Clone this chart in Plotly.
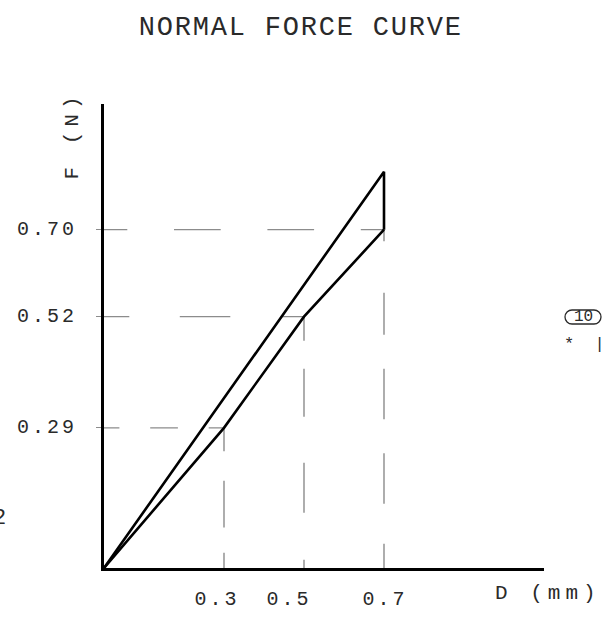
import plotly.graph_objects as go

# ---- data ----
guide_D = [0.3, 0.5, 0.7]          # deflection (mm) of the marked points
guide_F = [0.29, 0.52, 0.70]       # force (N) of the marked points
lower_D = [0, 0.3, 0.5, 0.7]
lower_F = [0, 0.29, 0.52, 0.70]
upper_D = [0, 0.7, 0.7]
upper_F = [0, 0.82, 0.70]
x_tick_text = ["0.3", "0.5", "0.7"]
y_tick_text = ["0.29", "0.52", "0.70"]

# ---- layout constants ----
W, H = 604, 618
ML, MR, MT, MB = 104, 60, 104, 50
PW, PH = W - ML - MR, H - MT - MB
X_MAX, Y_MAX = 1.1, 0.96
SX, SY = PW / X_MAX, PH / Y_MAX   # px per unit (for dash scaling only)

# dash patterns as in the drawing (reference pixel lengths, rescaled)
h_pat = {0.70: ([24, 48, 48, 48, 48, 48, 24], 288),
         0.52: ([25, 50, 50, 50, 25], 198),
         0.29: ([15, 30, 27, 30, 15], 117)}
v_pat = {0.70: ([12, 53, 43, 35, 52, 35, 52, 41, 25], 348),
         0.52: ([23, 27, 46, 44, 48, 45, 8], 241),
         0.29: ([23, 29, 46, 25, 15], 138)}


def dash(pat, ref_len, my_len):
    k = my_len / ref_len
    return ",".join(f"{v * k:.1f}px" for v in pat)


GUIDE = "#8c8c8c"
TXT = "#2a2a2a"
FONT = "Liberation Mono, DejaVu Sans Mono, monospace"

fig = go.Figure()

for d, f in zip(guide_D, guide_F):
    pat, rl = h_pat[f]
    fig.add_trace(go.Scatter(x=[0, d], y=[f, f], mode="lines",
                             line=dict(color=GUIDE, width=1.4, dash=dash(pat, rl, d * SX)),
                             hoverinfo="skip", showlegend=False))
    pat, rl = v_pat[f]
    fig.add_trace(go.Scatter(x=[d, d], y=[f, 0], mode="lines",
                             line=dict(color=GUIDE, width=1.4, dash=dash(pat, rl, f * SY)),
                             hoverinfo="skip", showlegend=False))

fig.add_trace(go.Scatter(x=lower_D, y=lower_F, mode="lines",
                         line=dict(color="black", width=2.6),
                         hoverinfo="skip", showlegend=False))
fig.add_trace(go.Scatter(x=upper_D, y=upper_F, mode="lines",
                         line=dict(color="black", width=2.6),
                         hoverinfo="skip", showlegend=False))


def px(x):
    return (x - ML) / PW


def py(y):
    return (H - MB - y) / PH


ann = []
# y tick labels
for f, t in zip(guide_F, y_tick_text):
    ann.append(dict(x=0, xref="paper", y=f, yref="y", text=t, showarrow=False,
                    xanchor="right", yanchor="middle", xshift=-31,
                    font=dict(family=FONT, size=20, color=TXT)))
# x tick labels (offsets as in the drawing)
for d, t, s in zip(guide_D, x_tick_text, [-7, -15, 1]):
    ann.append(dict(x=d, xref="x", y=0, yref="paper", text=t, showarrow=False,
                    xanchor="center", yanchor="middle", xshift=s, yshift=-31,
                    font=dict(family=FONT, size=20, color=TXT)))
# axis titles
ann.append(dict(x=px(548), xref="paper", y=py(593), yref="paper", text="D (mm)",
                showarrow=False, xanchor="center", yanchor="middle",
                font=dict(family=FONT, size=21, color=TXT)))
ann.append(dict(x=px(72), xref="paper", y=py(136), yref="paper", text="F (N)",
                showarrow=False, xanchor="center", yanchor="middle", textangle=-90,
                font=dict(family=FONT, size=21, color=TXT)))
# title
ann.append(dict(x=px(301), xref="paper", y=py(28), yref="paper", text="NORMAL FORCE CURVE",
                showarrow=False, xanchor="center", yanchor="middle",
                font=dict(family=FONT, size=27, color=TXT)))
# side notes
ann.append(dict(x=px(583), xref="paper", y=py(317), yref="paper", text="10",
                showarrow=False, xanchor="center", yanchor="middle",
                font=dict(family=FONT, size=16, color=TXT)))
ann.append(dict(x=px(584), xref="paper", y=py(344), yref="paper", text="*  |",
                showarrow=False, xanchor="center", yanchor="middle",
                font=dict(family=FONT, size=17, color=TXT)))
ann.append(dict(x=px(8), xref="paper", y=py(518), yref="paper", text="2",
                showarrow=False, xanchor="right", yanchor="middle",
                font=dict(family=FONT, size=22, color=TXT)))

# oval around "10"
x0, x1, y0, y1 = 565, 601, 310, 324
r = (y1 - y0) / 2
c = 0.55 * r
path = (f"M {px(x0 + r)},{py(y0)} L {px(x1 - r)},{py(y0)} "
        f"C {px(x1 - r + c)},{py(y0)} {px(x1)},{py(y0 + r - c)} {px(x1)},{py(y0 + r)} "
        f"C {px(x1)},{py(y1 - r + c)} {px(x1 - r + c)},{py(y1)} {px(x1 - r)},{py(y1)} "
        f"L {px(x0 + r)},{py(y1)} "
        f"C {px(x0 + r - c)},{py(y1)} {px(x0)},{py(y1 - r + c)} {px(x0)},{py(y1 - r)} "
        f"C {px(x0)},{py(y0 + r - c)} {px(x0 + r - c)},{py(y0)} {px(x0 + r)},{py(y0)} Z")
shapes = [dict(type="path", xref="paper", yref="paper", path=path,
               line=dict(color=TXT, width=1.3))]

fig.update_layout(
    width=W, height=H,
    margin=dict(l=ML, r=MR, t=MT, b=MB, pad=0),
    paper_bgcolor="white", plot_bgcolor="white",
    annotations=ann, shapes=shapes,
    xaxis=dict(range=[0, X_MAX], showgrid=False, zeroline=False, showticklabels=False,
               ticks="", showline=True, linecolor="black", linewidth=3, fixedrange=True),
    yaxis=dict(range=[0, Y_MAX], showgrid=False, zeroline=False, showticklabels=False,
               tickmode="array", tickvals=guide_F, ticks="outside", ticklen=5,
               tickwidth=1.4, tickcolor=GUIDE,
               showline=True, linecolor="black", linewidth=3, fixedrange=True),
)

# wide CAD-style letter spacing of the drawing's lettering
post = """
document.body.style.margin='0px';
document.body.style.overflow='hidden';
var sp = {'NORMAL FORCE CURVE': '1.8px', 'D (mm)': '5px', 'F (N)': '5px'};
document.querySelectorAll('text.annotation-text').forEach(function(t){
  var s = t.textContent;
  if (sp[s]) { t.style.letterSpacing = sp[s]; }
  else if (/^0\\.\\d+$/.test(s)) { t.style.letterSpacing = '3px'; }
});
"""
fig.write_html("out.html", config={"displayModeBar": False}, post_script=post)
